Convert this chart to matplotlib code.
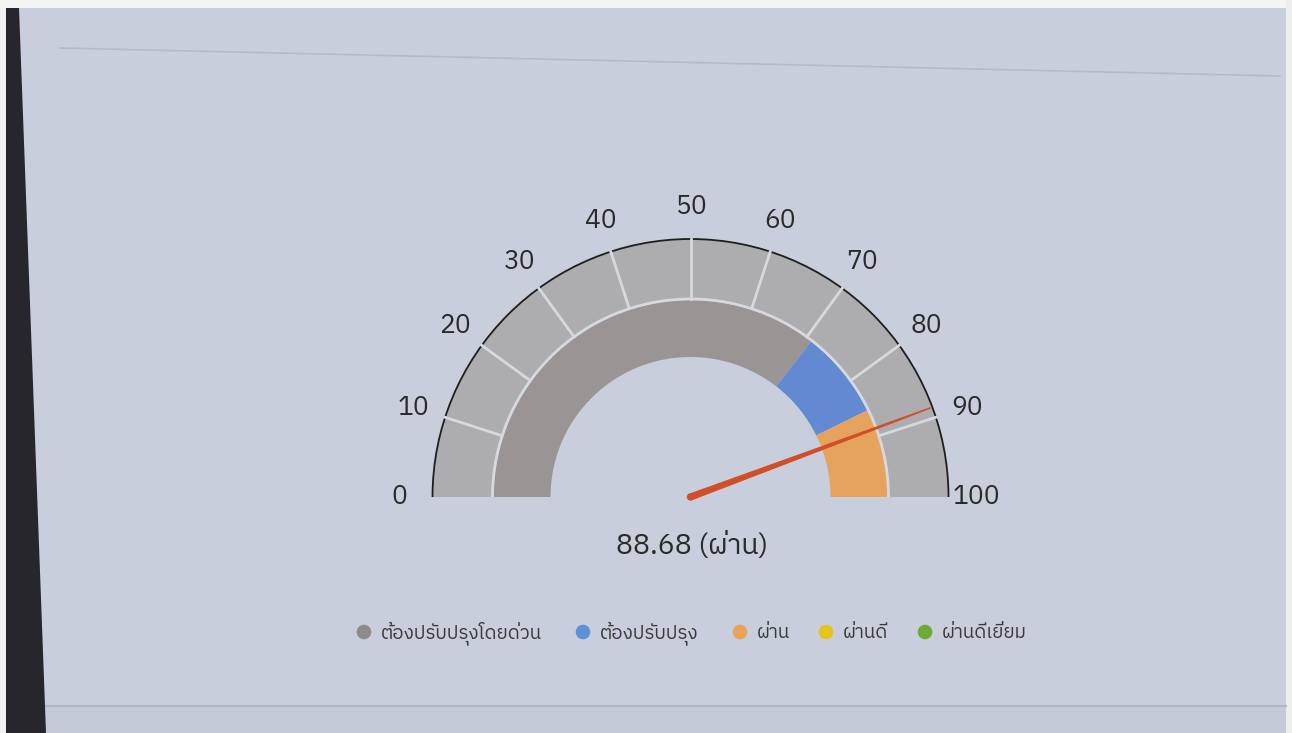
import numpy as np
import matplotlib.pyplot as plt
from matplotlib import font_manager
from matplotlib.ft2font import FT2Font
from matplotlib.patches import Wedge, Polygon, Circle, Arc


# data
score = 88.68
score_text = 'ผ่าน'
tick_values = [0, 10, 20, 30, 40, 50, 60, 70, 80, 90, 100]
band_names = ['ต้องปรับปรุงโดยด่วน', 'ต้องปรับปรุง', 'ผ่าน', 'ผ่านดี', 'ผ่านดีเยี่ยม']
band_from = [0, 71, 85.5, 100, 100]
band_to = [71, 85.5, 100, 100, 100]
band_colors = ['#9a9594', '#6289d2', '#e6a35e', '#e8c81e', '#71ad35']
legend_colors = ['#8f8b8b', '#5f8fd6', '#e9a35a', '#e3c31c', '#6eab33']


def find_thai_font():
    fonts = sorted(font_manager.fontManager.ttflist,
                   key=lambda f: (0 if 'Thai' in f.name else 1, f.name))
    for f in fonts:
        try:
            cmap = FT2Font(f.fname).get_charmap()
        except Exception:
            continue
        if ord('ผ') in cmap and ord('่') in cmap:
            return f.name
    return None

thai = find_thai_font()
fams = [thai, 'DejaVu Sans'] if thai else ['DejaVu Sans']
plt.rcParams['font.family'] = fams

W, H = 1292, 733
fig = plt.figure(figsize=(W / 100, H / 100), dpi=100)
fig.patch.set_facecolor('#c9cedc')
ax = fig.add_axes([0, 0, 1, 1])
ax.set_xlim(0, W)
ax.set_ylim(0, H)
ax.axis('off')

# photo edges
ax.add_patch(Polygon([[0, 0], [0, H], [6, H], [6, 0]], closed=True, fc='#f2f2f2', ec='none'))
ax.add_patch(Polygon([[6, 0], [6, H - 8], [19, H - 8], [46, 0]], closed=True, fc='#26262c', ec='none'))
ax.add_patch(Polygon([[0, H - 8], [W, H - 8], [W, H], [0, H]], closed=True, fc='#f4f4f4', ec='none'))
ax.add_patch(Polygon([[W - 6, 0], [W, 0], [W, H], [W - 6, H]], closed=True, fc='#eeeeee', ec='none'))
ax.plot([60, 1280], [H - 48, H - 76], color='#b5bac8', lw=1.2, zorder=1)
ax.add_patch(Polygon([[46, 0], [W - 6, 0], [W - 6, 26], [46, 26]], closed=True, fc='#c5cad8', ec='none'))
ax.plot([46, W - 6], [27, 27], color='#b3b6c2', lw=1.5)

cx, cy = 690.5, H - 497
r_out, r_mid, r_in = 258, 198, 140


def ang(v):
    return 180 - 1.8 * v

# outer scale band
ax.add_patch(Wedge((cx, cy), r_out, 0, 180, width=r_out - r_mid, fc='#adadb0', ec='none'))
for v in tick_values[1:-1]:
    t = np.radians(ang(v))
    ax.plot([cx + r_mid * np.cos(t), cx + r_out * np.cos(t)],
            [cy + r_mid * np.sin(t), cy + r_out * np.sin(t)],
            color='#d6d9e0', lw=2)

# inner coloured band
for a, b, c in zip(band_from, band_to, band_colors):
    if b > a:
        ax.add_patch(Wedge((cx, cy), r_mid - 1, ang(b), ang(a), width=r_mid - 1 - r_in,
                           fc=c, ec='none'))
ax.add_patch(Arc((cx, cy), 2 * r_mid, 2 * r_mid, theta1=0, theta2=180, color='#d6d9e0', lw=2))
ax.add_patch(Arc((cx, cy), 2 * r_out, 2 * r_out, theta1=0, theta2=180, color='#1e1e1e', lw=1.3))

# tick labels
for v in tick_values:
    t = np.radians(ang(v))
    ax.text(cx + 291 * np.cos(t) - (5 if v == 100 else 0), cy + 291 * np.sin(t), str(v),
            ha='center', va='center', fontsize=19, color='#2a2a2a')

# needle
t = np.radians(ang(score))
d = np.array([np.cos(t), np.sin(t)])
p = np.array([-d[1], d[0]])
c0 = np.array([cx, cy])
tip = c0 + 256 * d
ax.add_patch(Polygon([c0 + 3.6 * p, tip + 0.8 * p, tip - 0.8 * p, c0 - 3.6 * p],
                     closed=True, fc='#cf4f2a', ec='none', zorder=5))
ax.add_patch(Circle((cx, cy), 3.7, fc='#cf4f2a', ec='none', zorder=5))

ax.text(692, H - 546, f'{score:.2f} ({score_text})', ha='center', va='center',
        fontsize=20.5, color='#2a2a2a')

# legend
leg_x = [364, 583, 740, 826, 925]
for x, name, c in zip(leg_x, band_names, legend_colors):
    ax.scatter([x], [H - 632], s=110, color=c, edgecolor='none')
    ax.text(x + 17, H - 633, name, ha='left', va='center', fontsize=13.5, color='#3a3a3a')

fig.savefig('out.png', dpi=100, facecolor=fig.get_facecolor())
